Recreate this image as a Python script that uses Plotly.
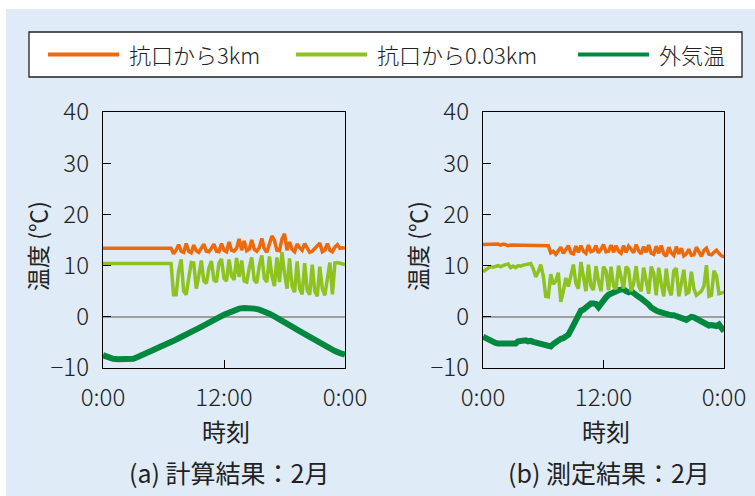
import plotly.graph_objects as go

# Time grids (hours after midnight)
hours_q = [i * 0.25 for i in range(97)]   # 15-minute steps
hours_h = [i * 0.5 for i in range(49)]    # 30-minute steps

# (a) calculated, February
calc_3km = (
    [13.4] * 28 +
    [12.3, 13.0, 14.1, 12.8,  12.6, 14.3, 12.8, 12.5,  14.0, 12.9, 12.6, 13.5,
     14.2, 12.8, 12.7, 13.4,  14.2, 12.8, 12.7, 14.3,  13.0, 12.7, 14.6, 13.0,
     12.8, 13.4, 15.2, 13.0,  14.8, 12.9, 13.2, 15.0,  13.2, 12.8, 13.5, 15.3,
     13.3, 12.6, 14.2, 15.8,  14.9, 13.0, 12.9, 15.2,  16.2, 13.0, 14.6, 13.2,
     12.7, 14.2, 13.5, 13.0,  14.3, 13.3, 12.6, 12.8,  13.4, 14.0, 14.4, 12.7,
     13.0, 14.3, 13.0, 12.7,  13.6, 14.1, 13.4, 13.5,  13.4]
)
calc_003km = (
    [10.4] * 28 +
    [4.3, 4.3, 9.0, 11.2,   5.0, 4.3, 7.5, 10.6,   10.5, 5.5, 8.0, 11.0,
     7.0, 6.5, 9.5, 10.9,   7.2, 6.8, 10.5, 11.3,  7.5, 7.0, 11.2, 8.0,
     7.2, 11.5, 7.8, 11.0,  7.0, 6.8, 9.5, 11.6,   7.2, 6.6, 10.0, 12.0,
     7.5, 6.8, 11.8, 8.0,   6.0, 11.6, 6.8, 12.6,  8.5, 5.5, 11.4, 6.0,
     4.8, 10.8, 5.5, 4.4,   10.5, 5.2, 4.3, 10.2,  5.0, 4.0, 9.8, 5.5,
     4.2, 8.0, 10.6, 4.4,   10.5, 10.6, 10.5, 10.4,  10.2]
)
calc_outdoor = [
    -7.5, -7.9, -8.2, -8.3, -8.3, -8.3, -8.2, -7.8, -7.4, -7.0,
    -6.6, -6.1, -5.7, -5.2, -4.7, -4.2, -3.8, -3.2, -2.7, -2.2,
    -1.6, -1.1, -0.6, -0.1, 0.4, 0.9, 1.3, 1.6, 1.7, 1.7,
    1.6, 1.4, 1.1, 0.6, 0.1, -0.4, -1.0, -1.6, -2.2, -2.8,
    -3.4, -4.0, -4.6, -5.2, -5.7, -6.2, -6.7, -7.1, -7.4,
]

# (b) measured, February
meas_3km = [
    14.1, 14.1, 14.2, 14.2,  14.2, 14.2, 14.2, 14.0,  14.2, 14.1, 13.9, 14.0,
    14.0, 14.0, 14.0, 14.0,  14.0, 14.0, 14.0, 13.9,  13.9, 14.0, 14.0, 14.0,
    14.0, 14.0, 13.9, 12.5,  12.8, 12.2, 13.0, 13.6,  12.4, 13.2, 13.9, 12.5,
    12.3, 13.8, 12.6, 13.9,  12.8, 12.4, 14.0, 12.7,  12.9, 13.9, 12.5, 13.2,
    14.1, 12.7, 12.8, 14.0,  12.6, 13.9, 12.8, 12.4,  13.9, 12.6, 13.8, 13.2,
    12.5, 14.1, 12.9, 12.3,  13.7, 12.6, 14.0, 12.4,  12.2, 13.8, 12.4, 13.9,
    12.3, 11.8, 13.6, 12.5,  12.0, 13.7, 12.3, 13.4,  11.9, 12.3, 13.2, 12.0,
    12.1, 13.6, 12.5, 11.8,  13.0, 13.4, 12.2, 12.1,  12.6, 13.0, 12.4, 11.9,
    11.7,
]
meas_003km = [
    8.8, 9.2, 9.5, 9.8,   9.7, 9.9, 10.0, 9.8,   10.1, 10.2, 10.3, 9.6,
    9.9, 9.6, 10.0, 9.9,  10.1, 10.2, 10.3, 10.4,  9.4, 7.8, 8.8, 10.2,
    8.0, 4.0, 3.9, 8.3,   6.4, 7.0, 8.6, 2.9,    5.0, 7.6, 5.9, 8.5,
    10.2, 6.5, 5.5, 10.7,  7.5, 5.0, 10.2, 6.0,   5.2, 9.9, 7.0, 5.0,
    9.8, 9.0, 5.2, 9.8,   6.0, 5.4, 10.0, 7.5,   5.5, 9.8, 9.2, 5.0,
    6.5, 9.9, 6.0, 5.0,   9.6, 7.0, 4.5, 9.8,    8.5, 4.2, 9.6, 6.5,
    4.0, 9.4, 5.5, 4.2,   9.0, 9.5, 4.0, 6.5,    9.2, 4.5, 4.8, 8.8,
    5.5, 4.2, 4.5, 5.0,   6.0, 10.1, 4.0, 4.2,   9.0, 8.0, 4.5, 4.6,
    4.8,
]
meas_outdoor = [
    -3.9, -4.2, -4.5, -4.7,  -4.9, -5.1, -5.2, -5.2,  -5.1, -5.3, -5.2, -5.3,
    -5.3, -5.2, -4.8, -4.7,  -4.7, -4.6, -4.8, -4.7,  -4.9, -5.0, -5.2, -5.3,
    -5.3, -5.4, -5.5, -5.8,  -5.3, -4.9, -4.6, -4.3,  -4.2, -3.9, -3.5, -2.6,
    -1.6, -0.3, 0.6, 1.2,    1.4, 1.8, 2.2, 2.6,     2.6, 2.5, 1.9, 2.7,
    3.4, 3.8, 4.3, 4.6,      4.8, 5.0, 5.2, 5.3,     5.4, 5.0, 4.8, 5.0,
    4.5, 4.2, 3.9, 3.6,      3.3, 3.0, 2.4, 1.8,     1.4, 1.2, 1.0, 0.8,
    0.9, 0.7, 0.5, 0.3,      0.3, 0.2, 0.0, -0.2,    -0.4, -0.6, -0.3, 0.0,
    -0.1, -0.4, -0.8, -1.1,  -1.3, -1.5, -1.7, -1.6,  -1.7, -1.8, -1.5, -2.2,
    -2.8,
]

series_names = ["抗口から3km", "抗口から0.03km", "外気温"]
x_ticks = [0, 12, 24]
x_tick_text = ["0:00", "12:00", "0:00"]
y_ticks = [-10, 0, 10, 20, 30, 40]
y_tick_text = ["−10", "0", "10", "20", "30", "40"]
captions = ["(a) 計算結果：2月", "(b) 測定結果：2月"]

ORANGE = "#EC6A0C"
LIGHT_GREEN = "#8DC21F"
DARK_GREEN = "#00883E"
PANEL_BG = "#DFEBF7"
FONT = "Noto Sans CJK JP"
TEXT_COLOR = "#222"

W, H = 755, 496

def px(x):
    return x / W

def py(y):
    return 1 - y / H

fig = go.Figure()

panels = [
    ("x", "y", calc_3km, calc_003km, hours_h, calc_outdoor),
    ("x2", "y2", meas_3km, meas_003km, hours_q, meas_outdoor),
]
for xa, ya, s3, s003, t_out, sout in panels:
    fig.add_trace(go.Scatter(x=t_out, y=sout, mode="lines",
                             line=dict(color=DARK_GREEN, width=6),
                             name=series_names[2], xaxis=xa, yaxis=ya))
    fig.add_trace(go.Scatter(x=hours_q, y=s003, mode="lines",
                             line=dict(color=LIGHT_GREEN, width=3.5),
                             name=series_names[1], xaxis=xa, yaxis=ya))
    fig.add_trace(go.Scatter(x=hours_q, y=s3, mode="lines",
                             line=dict(color=ORANGE, width=3.5),
                             name=series_names[0], xaxis=xa, yaxis=ya))

tick_font = dict(family=FONT, size=24, color=TEXT_COLOR, weight=300)
axis_common = dict(showline=True, linecolor="black", linewidth=1.3, mirror=True,
                   ticks="inside", tickcolor="black", ticklen=8, tickwidth=1.3,
                   showgrid=False, tickfont=tick_font, automargin=False)

y_top, y_bot = 112, 368
for i, (x0, x1) in enumerate([(103, 345), (483, 724)]):
    sfx = "" if i == 0 else str(i + 1)
    fig.update_layout(**{
        "xaxis" + sfx: dict(axis_common, domain=[px(x0), px(x1)], range=[0, 24],
                            tickvals=x_ticks, ticktext=x_tick_text, zeroline=False,
                            anchor="y" + sfx, ticklabelstandoff=8),
        "yaxis" + sfx: dict(axis_common, domain=[py(y_bot), py(y_top)], range=[-10, 40],
                            tickvals=y_ticks, ticktext=y_tick_text, zeroline=True,
                            zerolinecolor="#A0A0A0", zerolinewidth=1.5,
                            anchor="x" + sfx, ticklabelstandoff=8),
    })

shapes = [
    # light blue panel
    dict(type="rect", xref="paper", yref="paper", x0=px(6), x1=1, y0=0, y1=py(9),
         fillcolor=PANEL_BG, line=dict(width=0), layer="below"),
    # legend box
    dict(type="rect", xref="paper", yref="paper", x0=px(29), x1=px(742), y0=py(77), y1=py(32),
         fillcolor="white", line=dict(color=TEXT_COLOR, width=1.3), layer="above"),
]
annotations = []
legend_items = [(48, 119, 127, ORANGE), (296, 367, 375, LIGHT_GREEN), (578, 649, 657, DARK_GREEN)]
for (lx0, lx1, tx, col), name in zip(legend_items, series_names):
    shapes.append(dict(type="line", xref="paper", yref="paper", x0=px(lx0), x1=px(lx1),
                       y0=py(54.5), y1=py(54.5), line=dict(color=col, width=4)))
    annotations.append(dict(text=name, xref="paper", yref="paper", x=px(tx), y=py(54.5),
                            xanchor="left", yanchor="middle", showarrow=False,
                            font=dict(family=FONT, size=22, color=TEXT_COLOR, weight=300)))

label_font = dict(family=FONT, size=23, color=TEXT_COLOR)
for cx, ycx, cap in [(224, 37, captions[0]), (604, 417, captions[1])]:
    annotations.append(dict(text="温度 (℃)", xref="paper", yref="paper", x=px(ycx), y=py(246),
                            textangle=-90, xanchor="center", yanchor="middle", showarrow=False,
                            font=label_font))
    annotations.append(dict(text="時刻", xref="paper", yref="paper", x=px(cx + 2), y=py(430),
                            xanchor="center", yanchor="middle", showarrow=False,
                            font=dict(family=FONT, size=24, color=TEXT_COLOR)))
    annotations.append(dict(text=cap, xref="paper", yref="paper", x=px(cx + 5), y=py(472),
                            xanchor="center", yanchor="middle", showarrow=False,
                            font=dict(family=FONT, size=25, color=TEXT_COLOR)))

fig.update_layout(width=W, height=H,
                  margin=dict(l=0, r=0, t=0, b=0, pad=0, autoexpand=False),
                  paper_bgcolor="white", plot_bgcolor="white",
                  shapes=shapes, annotations=annotations, showlegend=False)

fig.write_html("out.html")
